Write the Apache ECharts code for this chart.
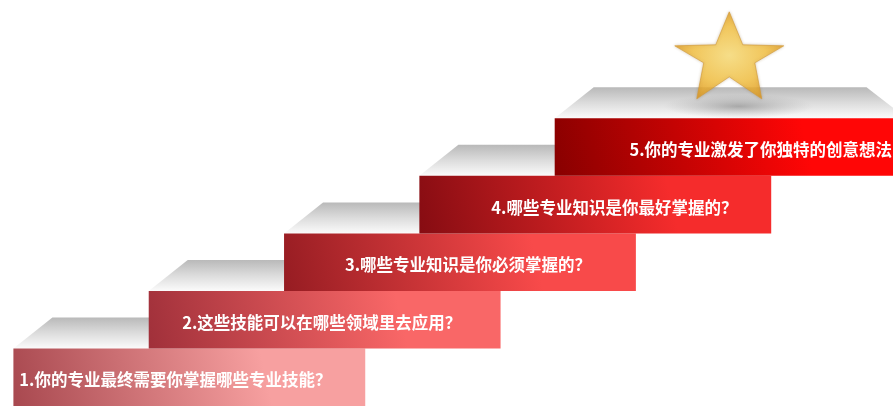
<!DOCTYPE html>
<html>
<head>
<meta charset="utf-8">
<script src="https://cdn.jsdelivr.net/npm/echarts@6/dist/echarts.min.js"></script>
<style>
html,body{margin:0;padding:0;background:#fff;}
#chart{width:893px;height:406px;}
</style>
</head>
<body>
<div id="chart"></div>
<script>
// ---- data ----
const stepLabels = [
  '1.你的专业最终需要你掌握哪些专业技能？',
  '2.这些技能可以在哪些领域里去应用？',
  '3.哪些专业知识是你必须掌握的？',
  '4.哪些专业知识是你最好掌握的？',
  '5.你的专业激发了你独特的创意想法'
];
const stepLevels = [1, 2, 3, 4, 5];

// ---- styles ----
const lightColors = ['#f7a0a0', '#f96767', '#f84a4a', '#f52c2c', '#ff0606'];
const darkColors  = ['#a8484f', '#a0303a', '#961c22', '#860c12', '#880000'];
const BOX_W = 2.6;          // box width in step units
const FACE_H = 31, FACE_L = 39, FACE_R = 40;

const chart = echarts.init(document.getElementById('chart'), null, {renderer: 'canvas'});

function renderStep(params, api) {
  const i = params.dataIndex;
  const x0 = api.value(0), yTop = api.value(1);
  const tl = api.coord([x0, yTop]);
  const br = api.coord([x0 + BOX_W, yTop - 1]);
  const w = br[0] - tl[0], h = br[1] - tl[1];
  const children = [];
  // top face
  children.push({
    type: 'polygon',
    shape: {points: [[tl[0], tl[1]], [tl[0] + FACE_L, tl[1] - FACE_H], [br[0] - FACE_R, tl[1] - FACE_H], [br[0], tl[1]]]},
    style: {
      fill: new echarts.graphic.LinearGradient(0, 0, 0, 1, [
        {offset: 0, color: '#b9b9b9'},
        {offset: 0.5, color: '#dcdcdc'},
        {offset: 1, color: '#fbfbfb'}
      ])
    }
  });
  if (i === stepLevels.length - 1) {
    // soft shadow under the star
    children.push({
      type: 'circle',
      x: (tl[0] + br[0]) / 2 + 8, y: tl[1] - 12,
      scaleY: 0.16,
      shape: {cx: 0, cy: 0, r: 75},
      style: {
        fill: new echarts.graphic.RadialGradient(0.5, 0.5, 0.5, [
          {offset: 0, color: 'rgba(110,110,110,0.5)'},
          {offset: 1, color: 'rgba(150,150,150,0)'}
        ])
      }
    });
  }
  // front box
  children.push({
    type: 'rect',
    shape: {x: tl[0], y: tl[1], width: w, height: h},
    style: {
      fill: new echarts.graphic.LinearGradient(0, 1, 0.7, 0, [
        {offset: 0, color: darkColors[i]},
        {offset: 1, color: lightColors[i]}
      ])
    }
  });
  // label
  children.push({
    type: 'text',
    style: {
      text: api.value(2),
      x: tl[0] + 162 + 11 * i,
      y: tl[1] + h / 2 + 3,
      fill: '#ffffff',
      fontSize: 16.5,
      fontWeight: 'bold',
      fontFamily: '"Noto Sans CJK SC", sans-serif',
      align: 'center',
      verticalAlign: 'middle',
      shadowColor: 'rgba(60,0,0,0.6)',
      shadowBlur: 2,
      shadowOffsetX: 1,
      shadowOffsetY: 1
    }
  });
  return {type: 'group', children};
}

const starPath = 'path://M54.5,0 L68,33 L109,34 L80,51 L87,87 L54.5,65 L22,87 L29,51 L0,34 L41,33 Z';
const lastLevel = stepLevels[stepLevels.length - 1];

chart.setOption({
  backgroundColor: '#ffffff',
  animation: false,
  grid: {left: 13.4, right: -3.75, top: 0, bottom: -4},
  xAxis: {type: 'value', min: 0, max: 6.5, show: false},
  yAxis: {type: 'value', min: 0, max: 7.057, show: false},
  series: [
    {
      type: 'custom',
      renderItem: renderStep,
      clip: false,
      data: stepLevels.map((lv, i) => [lv - 1, lv, stepLabels[i]])
    },
    {
      type: 'scatter',
      symbol: starPath,
      symbolSize: [109, 87],
      symbolKeepAspect: false,
      symbolOffset: [0, -63],
      data: [[lastLevel - 1 + BOX_W / 2 - 0.01, lastLevel]],
      itemStyle: {
        color: new echarts.graphic.RadialGradient(0.5, 0.5, 0.55, [
          {offset: 0, color: '#fde17c'},
          {offset: 0.6, color: '#f7c445'},
          {offset: 1, color: '#e39a1c'}
        ]),
        borderColor: '#d49a3a',
        borderWidth: 0.8,
        shadowColor: 'rgba(120,80,0,0.35)',
        shadowBlur: 3
      },
      z: 5
    }
  ]
});
</script>
</body>
</html>
